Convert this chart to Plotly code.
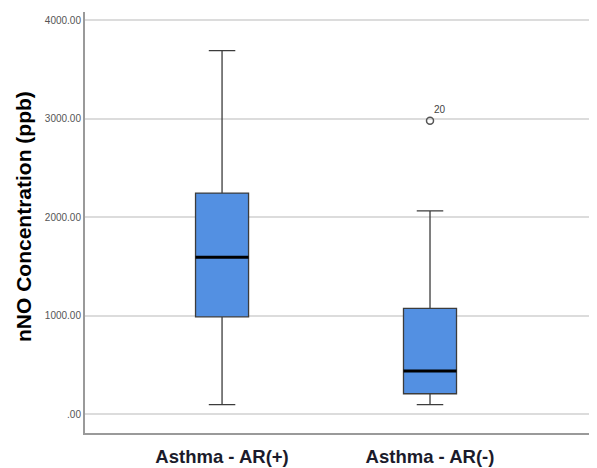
import plotly.graph_objects as go

# ---- data ----
groups = ["Asthma - AR(+)", "Asthma - AR(-)"]
q1 = [990, 210]
median = [1595, 440]
q3 = [2245, 1075]
lower_whisker = [100, 100]
upper_whisker = [3690, 2065]
outlier_group = [1]
outlier_values = [2980]
outlier_labels = ["20"]
y_tickvals = [0, 1000, 2000, 3000, 4000]
y_ticktext = [".00", "1000.00", "2000.00", "3000.00", "4000.00"]

positions = list(range(len(groups)))
box_width = 0.255
box_fill = "#5390e2"
edge_color = "#3c3c3c"

fig = go.Figure()
for i, pos in enumerate(positions):
    fig.add_trace(go.Box(
        x=[pos], q1=[q1[i]], median=[median[i]], q3=[q3[i]],
        lowerfence=[lower_whisker[i]], upperfence=[upper_whisker[i]],
        width=box_width, whiskerwidth=0.5, boxpoints=False,
        fillcolor=box_fill, line=dict(color=edge_color, width=1.3),
        hoverinfo="skip", showlegend=False,
    ))
    fig.add_trace(go.Scatter(
        x=[pos - box_width / 2, pos + box_width / 2], y=[median[i], median[i]],
        mode="lines", line=dict(color="#000000", width=3),
        hoverinfo="skip", showlegend=False,
    ))

fig.add_trace(go.Scatter(
    x=[positions[g] for g in outlier_group], y=outlier_values,
    mode="markers",
    marker=dict(symbol="circle-open", size=7, color="#555555", line=dict(width=1.5)),
    hoverinfo="skip", showlegend=False,
))
for g, v, lab in zip(outlier_group, outlier_values, outlier_labels):
    fig.add_annotation(x=positions[g], y=v, text=lab, showarrow=False,
                       xshift=10, yshift=11,
                       font=dict(family="Liberation Sans, Arial", size=10, color="#444444"))

fig.add_annotation(
    xref="paper", yref="paper", x=(24 - 85) / 512, y=(433 - 217) / 421,
    text="<b>nNO Concentration (ppb)</b>", textangle=-90, showarrow=False,
    xanchor="center", yanchor="middle",
    font=dict(family="Liberation Sans, Arial", size=21, color="#000000"),
)

fig.update_layout(
    width=589, height=460,
    margin=dict(l=77, r=0, t=4, b=35),
    paper_bgcolor="white", plot_bgcolor="white",
    xaxis=dict(
        range=[-0.659, 1.803], tickvals=positions,
        ticktext=["<b>%s</b>" % g for g in groups],
        showgrid=False, zeroline=False, showline=True,
        linecolor="#9a9a9a", linewidth=2, ticks="", ticklabelstandoff=6,
        tickfont=dict(family="Liberation Sans, Arial", size=18.5, color="#1b1b2b"),
    ),
    yaxis=dict(
        range=[-188, 4082], tickvals=y_tickvals, ticktext=y_ticktext,
        showgrid=True, gridcolor="#dcdcdc", gridwidth=1.5, zeroline=False,
        showline=True, linecolor="#9a9a9a", linewidth=2, ticks="",
        tickfont=dict(family="Liberation Sans, Arial", size=10, color="#555555"),
    ),
)

fig.write_html("out.html")
